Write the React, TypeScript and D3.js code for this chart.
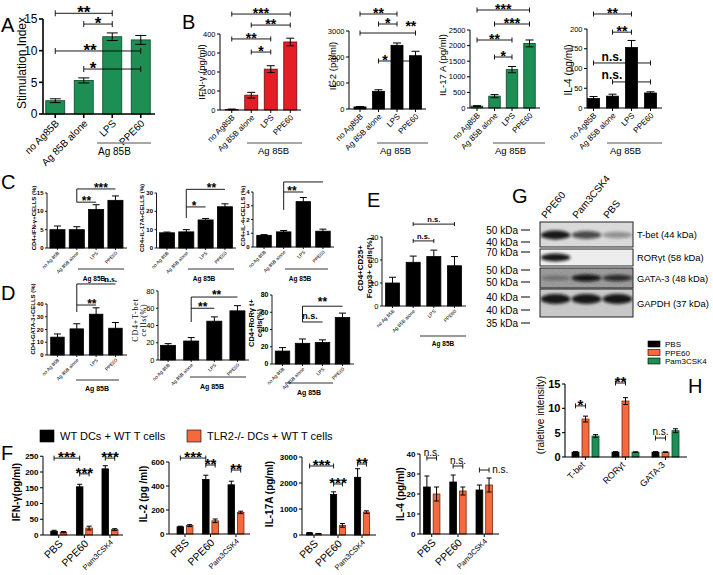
import React from 'react';
import * as d3 from 'd3';

// ---------------- DATA ----------------
const agCats = ['no Ag85B', 'Ag 85B alone', 'LPS', 'PPE60'];
const agCatsSmall = ['no Ag 85B', 'Ag 85B alone', 'LPS', 'PPE60'];

const aVals = [2.1, 5.3, 12.2, 11.7];
const aErrs = [0.3, 0.4, 0.6, 0.7];
const aTicks = [0, 5, 10, 15];

const ifnVals = [3, 78, 215, 358];
const ifnErrs = [2, 15, 18, 20];
const ifnTicks = [0, 100, 200, 300, 400];

const il2Vals = [80, 680, 2450, 2050];
const il2Errs = [15, 60, 90, 170];
const il2Ticks = [0, 1000, 2000, 3000];

const il17Vals = [60, 380, 1230, 2070];
const il17Errs = [15, 50, 100, 110];
const il17Ticks = [0, 500, 1000, 1500, 2000, 2500];

const il4Vals = [24, 30, 153, 38];
const il4Errs = [5, 5, 18, 3];
const il4Ticks = [0, 50, 100, 150, 200];

const cIfnVals = [5, 5, 10.5, 13];
const cIfnErrs = [1, 0.8, 1.3, 1.2];
const cIfnTicks = [0, 5, 10, 15];

const cIl17Vals = [8.3, 8.8, 15.3, 22.5];
const cIl17Errs = [0.4, 1.2, 0.8, 1.6];
const cIl17Ticks = [0, 10, 20, 30];

const cIl4Vals = [0.85, 1.1, 3.3, 1.15];
const cIl4Errs = [0.05, 0.1, 0.3, 0.15];
const cIl4Ticks = [0, 1, 2, 3, 4];

const dGataVals = [14, 20.5, 32, 21];
const dGataErrs = [2.5, 4, 5, 4.5];
const dGataTicks = [0, 10, 20, 30, 40];

const dTbetVals = [17, 22, 45, 57];
const dTbetErrs = [2, 4, 5, 6];
const dTbetTicks = [0, 20, 40, 60, 80];

const dRorVals = [15, 24, 25, 54];
const dRorErrs = [4, 5, 3, 5];
const dRorTicks = [0, 20, 40, 60, 80];

const eVals = [10, 19, 21.5, 17.5];
const eErrs = [2.5, 2.7, 2.8, 4];
const eTicks = [0, 10, 20, 30];

const fCats = ['PBS', 'PPE60', 'Pam3CSK4'];
const fSeries = ['WT DCs + WT T cells', 'TLR2-/- DCs + WT T cells'];
const fIfnWT = [12, 153, 210];
const fIfnWTErr = [3, 8, 10];
const fIfnKO = [9, 22, 17];
const fIfnKOErr = [2, 6, 3];
const fIfnTicks = [0, 50, 100, 150, 200, 250];

const fIl2WT = [60, 455, 410];
const fIl2WTErr = [5, 35, 30];
const fIl2KO = [70, 110, 180];
const fIl2KOErr = [8, 15, 10];
const fIl2Ticks = [0, 200, 400, 600];

const fIl17WT = [80, 1560, 2220];
const fIl17WTErr = [10, 100, 330];
const fIl17KO = [50, 370, 880];
const fIl17KOErr = [10, 70, 50];
const fIl17Ticks = [0, 1000, 2000, 3000];

const fIl4WT = [23.5, 26, 22];
const fIl4WTErr = [5.5, 3.5, 2.5];
const fIl4KO = [20, 21.5, 24.5];
const fIl4KOErr = [3.5, 2, 3.5];
const fIl4Ticks = [0, 10, 20, 30, 40];

const hCats = ['T-bet', 'RORγt', 'GATA-3'];
const hSeries = ['PBS', 'PPE60', 'Pam3CSK4'];
const hPBS = [1, 1, 1];
const hPBSErr = [0.1, 0.1, 0.1];
const hPPE = [7.8, 11.5, 1];
const hPPEErr = [0.6, 0.7, 0.05];
const hPam = [4.3, 1, 5.4];
const hPamErr = [0.3, 0.05, 0.4];
const hTicks = [0, 5, 10, 15];

const blotLanes = ['PPE60', 'Pam3CSK4', 'PBS'];
const blotRows = ['T-bet (44 kDa)', 'RORγt (58 kDa)', 'GATA-3 (48 kDa)', 'GAPDH (37 kDa)'];
const blotIntensity = [
  [0.95, 0.7, 0.35],
  [0.95, 0, 0],
  [0.3, 0.95, 0.8],
  [0.95, 0.95, 0.95],
];
const blotMarkers = ['50 kDa', '40 kDa', '70 kDa', '50 kDa', '50 kDa', '40 kDa', '40 kDa', '35 kDa'];

// ---------------- STYLE ----------------
const FONT = 'Liberation Sans, Arial, Helvetica, sans-serif';
const SERIF = 'Liberation Serif, Times New Roman, serif';
const GREEN = '#1d8f55';
const RED = '#e41e26';
const ORANGE = '#f26a3d';

type Br = { a: number; b: number; v: number; t: string; lp?: number; gap?: number; caps?: boolean; serif?: boolean };
type VL = { at: number; v1: number; v2: number };
type Spec = {
  vals: number[]; errs: number[]; labels: string[];
  color: string; stroke: string;
  ax: number; right: number; band: [number, number]; pad: number;
  y0: number; yTop: number; yMax: number; ticks: number[];
  tickFs: number; tickBold?: boolean; tickLen: number; lw: number;
  ylab: string[]; ylabX: number; ylabY: number; ylabFs: number; ylabBold?: boolean; ylabFamily?: string; ylabLH?: number; ylabLS?: number;
  xFs: number; xBold?: boolean;
  grp?: { x1: number; x2: number; y: number; tx: number; ty: number; fs: number; color: string; bold?: boolean; lw: number; anchor?: string };
  br: Br[]; vl?: VL[]; starFs: number; nsFs: number; capW: number; capH: number;
};

function isStars(t: string) {
  return /^\*+$/.test(t);
}

function YLabel({ lines, x, y, fs, bold, family, lh, ls }: any) {
  return (
    <text
      transform={`translate(${x + fs * 0.35},${y}) rotate(-90)`}
      textAnchor="middle"
      fontSize={fs}
      fontWeight={bold ? 'bold' : 'normal'}
      fontFamily={family || FONT}
      letterSpacing={ls || 0}
    >
      {lines.map((l: string, i: number) => (
        <tspan key={i} x={0} dy={i === 0 ? 0 : (lh || fs * 1.1)}>{l}</tspan>
      ))}
    </text>
  );
}

function BarPanel({ s }: { s: Spec }) {
  const n = s.vals.length;
  const y = d3.scaleLinear().domain([0, s.yMax]).range([s.y0, s.yTop]);
  const x = d3.scaleBand<number>().domain(d3.range(n)).range(s.band).paddingInner(s.pad).paddingOuter(s.pad / 2);
  const bw = x.bandwidth();
  const step = x.step();
  const cx = (i: number) => s.band[0] + step * (i + 0.5);
  return (
    <g fontFamily={FONT}>
      {s.vals.map((v, i) => (
        <rect key={'b' + i} x={x(i)} y={y(v)} width={bw} height={s.y0 - y(v)} fill={s.color} stroke={s.stroke} strokeWidth={0.8} />
      ))}
      {s.vals.map((v, i) => {
        const e = s.errs[i];
        const c = cx(i);
        return (
          <g key={'e' + i} stroke="#000" strokeWidth={1}>
            <line x1={c} x2={c} y1={y(Math.max(0, v - e))} y2={y(v + e)} />
            <line x1={c - s.capW / 2} x2={c + s.capW / 2} y1={y(v + e)} y2={y(v + e)} />
            <line x1={c - s.capW / 2} x2={c + s.capW / 2} y1={y(Math.max(0, v - e))} y2={y(Math.max(0, v - e))} />
          </g>
        );
      })}
      <line x1={s.ax} x2={s.ax} y1={s.y0} y2={y(s.yMax)} stroke="#000" strokeWidth={s.lw} />
      <line x1={s.ax} x2={s.right} y1={s.y0} y2={s.y0} stroke="#000" strokeWidth={s.lw} />
      {s.ticks.map((t) => (
        <g key={'t' + t}>
          <line x1={s.ax - s.tickLen} x2={s.ax} y1={y(t)} y2={y(t)} stroke="#000" strokeWidth={s.lw} />
          <text x={s.ax - s.tickLen - 1.5} y={y(t)} dy="0.35em" textAnchor="end" fontSize={s.tickFs} fontWeight={s.tickBold ? 'bold' : 'normal'}>
            {t}
          </text>
        </g>
      ))}
      {s.labels.map((l, i) => (
        <g key={'x' + i}>
          <line x1={cx(i)} x2={cx(i)} y1={s.y0} y2={s.y0 + s.tickLen} stroke="#000" strokeWidth={s.lw} />
          <text
            transform={`translate(${cx(i) + s.xFs * 0.45},${s.y0 + s.xFs * 0.5 + s.tickLen + 1}) rotate(-45)`}
            textAnchor="end"
            fontSize={s.xFs}
            fontWeight={s.xBold ? 'bold' : 'normal'}
          >
            {l}
          </text>
        </g>
      ))}
      <YLabel lines={s.ylab} x={s.ylabX} y={s.ylabY} fs={s.ylabFs} bold={s.ylabBold} family={s.ylabFamily} lh={s.ylabLH} ls={s.ylabLS} />
      {s.grp && (
        <g>
          <line x1={s.grp.x1} x2={s.grp.x2} y1={s.grp.y} y2={s.grp.y} stroke={s.grp.color} strokeWidth={s.grp.lw} />
          <text x={s.grp.tx} y={s.grp.ty} fontSize={s.grp.fs} fontWeight={s.grp.bold ? 'bold' : 'normal'} textAnchor={s.grp.anchor || 'start'}>
            Ag 85B
          </text>
        </g>
      )}
      {(s.vl || []).map((v, i) => (
        <line key={'vl' + i} x1={cx(v.at)} x2={cx(v.at)} y1={y(v.v1)} y2={y(v.v2)} stroke="#000" strokeWidth={0.9} />
      ))}
      {s.br.map((b, i) => {
        const yy = y(b.v);
        const x1 = cx(b.a);
        const x2 = cx(b.b);
        const lx = b.lp !== undefined ? cx(b.lp) : (x1 + x2) / 2;
        const st = isStars(b.t);
        const fs = st ? s.starFs : s.nsFs;
        const gap = b.gap ?? 2;
        const ty = st ? yy - gap + 0.42 * fs : yy - gap;
        return (
          <g key={'br' + i}>
            <line x1={x1} x2={x2} y1={yy} y2={yy} stroke="#000" strokeWidth={0.9} />
            {b.caps !== false && (
              <g stroke="#000" strokeWidth={0.9}>
                <line x1={x1} x2={x1} y1={yy - s.capH / 2} y2={yy + s.capH / 2} />
                <line x1={x2} x2={x2} y1={yy - s.capH / 2} y2={yy + s.capH / 2} />
              </g>
            )}
            {b.t && (
              <text x={lx} y={ty} textAnchor="middle" fontSize={fs} fontWeight="bold" fontFamily={b.serif ? SERIF : FONT}>
                {b.t}
              </text>
            )}
          </g>
        );
      })}
    </g>
  );
}

type GBr = { a: [number, number]; b: [number, number]; v: number; t: string; ldx?: number; gap?: number; anchor?: string };
type GSpec = {
  groups: string[]; series: number[][]; errs: number[][]; colors: string[]; strokes: string[];
  ax: number; right: number; band: [number, number]; gpad: number; spad: number;
  y0: number; yTop: number; yMax: number; ticks: number[]; tickFs: number; tickBold?: boolean; tickLen: number; lw: number;
  ylab: string[]; ylabX: number; ylabY: number; ylabFs: number; ylabBold?: boolean;
  xFs: number[]; xBold?: boolean; xdx?: number;
  br: GBr[]; starFs: number; nsFs: number; capW: number; capH: number;
};

function GroupPanel({ s }: { s: GSpec }) {
  const ng = s.groups.length;
  const ns = s.series.length;
  const y = d3.scaleLinear().domain([0, s.yMax]).range([s.y0, s.yTop]);
  const xg = d3.scaleBand<number>().domain(d3.range(ng)).range(s.band).paddingInner(s.gpad).paddingOuter(s.gpad / 2);
  const xs = d3.scaleBand<number>().domain(d3.range(ns)).range([0, xg.bandwidth()]).paddingInner(s.spad);
  const bw = xs.bandwidth();
  const bx = (g: number, k: number) => (xg(g) as number) + (xs(k) as number);
  const bc = (g: number, k: number) => bx(g, k) + bw / 2;
  const gc = (g: number) => (xg(g) as number) + xg.bandwidth() / 2;
  return (
    <g fontFamily={FONT}>
      {s.series.map((ser, k) =>
        ser.map((v, g) => (
          <rect key={`b${k}-${g}`} x={bx(g, k)} y={y(v)} width={bw} height={s.y0 - y(v)} fill={s.colors[k]} stroke={s.strokes[k]} strokeWidth={0.8} />
        ))
      )}
      {s.series.map((ser, k) =>
        ser.map((v, g) => {
          const e = s.errs[k][g];
          const c = bc(g, k);
          return (
            <g key={`e${k}-${g}`} stroke="#000" strokeWidth={1}>
              <line x1={c} x2={c} y1={y(Math.max(0, v - e))} y2={y(v + e)} />
              <line x1={c - s.capW / 2} x2={c + s.capW / 2} y1={y(v + e)} y2={y(v + e)} />
              <line x1={c - s.capW / 2} x2={c + s.capW / 2} y1={y(Math.max(0, v - e))} y2={y(Math.max(0, v - e))} />
            </g>
          );
        })
      )}
      <line x1={s.ax} x2={s.ax} y1={s.y0} y2={y(s.yMax)} stroke="#000" strokeWidth={s.lw} />
      <line x1={s.ax} x2={s.right} y1={s.y0} y2={s.y0} stroke="#000" strokeWidth={s.lw} />
      {s.ticks.map((t) => (
        <g key={'t' + t}>
          <line x1={s.ax - s.tickLen} x2={s.ax} y1={y(t)} y2={y(t)} stroke="#000" strokeWidth={s.lw} />
          <text x={s.ax - s.tickLen - 1.5} y={y(t)} dy="0.35em" textAnchor="end" fontSize={s.tickFs} fontWeight={s.tickBold ? 'bold' : 'normal'}>
            {t}
          </text>
        </g>
      ))}
      {s.groups.map((l, i) => (
        <g key={'x' + i}>
          <line x1={gc(i)} x2={gc(i)} y1={s.y0} y2={s.y0 + s.tickLen} stroke="#000" strokeWidth={s.lw} />
          <text
            transform={`translate(${gc(i) + s.xFs[i] * 0.45 + (s.xdx || 0)},${s.y0 + s.xFs[i] * 0.5 + s.tickLen + 1}) rotate(-45)`}
            textAnchor="end"
            fontSize={s.xFs[i]}
            fontWeight={s.xBold ? 'bold' : 'normal'}
          >
            {l}
          </text>
        </g>
      ))}
      <YLabel lines={s.ylab} x={s.ylabX} y={s.ylabY} fs={s.ylabFs} bold={s.ylabBold} />
      {s.br.map((b, i) => {
        const yy = y(b.v);
        const x1 = bc(b.a[0], b.a[1]);
        const x2 = bc(b.b[0], b.b[1]);
        const st = isStars(b.t);
        const fs = st ? s.starFs : s.nsFs;
        const gap = b.gap ?? 2;
        const ty = st ? yy - gap + 0.42 * fs : yy - gap;
        return (
          <g key={'br' + i}>
            <line x1={x1} x2={x2} y1={yy} y2={yy} stroke="#000" strokeWidth={0.9} />
            <line x1={x1} x2={x1} y1={yy - s.capH / 2} y2={yy + s.capH / 2} stroke="#000" strokeWidth={0.9} />
            <line x1={x2} x2={x2} y1={yy - s.capH / 2} y2={yy + s.capH / 2} stroke="#000" strokeWidth={0.9} />
            <text x={(x1 + x2) / 2 + (b.ldx || 0)} y={ty} textAnchor={b.anchor || 'middle'} fontSize={fs} fontWeight={st ? 'bold' : 'normal'}>
              {b.t}
            </text>
          </g>
        );
      })}
    </g>
  );
}

// ---------------- PANEL SPECS ----------------
const specA: Spec = {
  vals: aVals, errs: aErrs, labels: agCats, color: GREEN, stroke: '#0c4627',
  ax: 43, right: 155, band: [41, 155], pad: 0.333,
  y0: 114, yTop: 19, yMax: 15, ticks: aTicks, tickFs: 12, tickLen: 4, lw: 1.6,
  ylab: ['Stimulation Index'], ylabX: 22, ylabY: 63, ylabFs: 12,
  xFs: 10,
  grp: { x1: 97, x2: 151, y: 143, tx: 98, ty: 155, fs: 10, color: '#8a8a8a', lw: 1.5 },
  br: [
    { a: 0, b: 2, v: 15.9, t: '**' },
    { a: 1, b: 2, v: 14.2, t: '*' },
    { a: 0, b: 3, v: 9.95, t: '**', lp: 1.22 },
    { a: 1, b: 3, v: 7.1, t: '*', lp: 1.33 },
  ],
  starFs: 17, nsFs: 12, capW: 11, capH: 6,
};

const bBase = {
  labels: agCats, tickFs: 7.5, tickLen: 3, lw: 1, xFs: 8, starFs: 14, nsFs: 12, capW: 8, capH: 5, ylabFs: 9.5,
};

const specB1: Spec = {
  ...bBase, vals: ifnVals, errs: ifnErrs, color: RED, stroke: '#6d0a0d',
  ax: 220, right: 301, band: [222, 300], pad: 0.333,
  y0: 110, yTop: 34, yMax: 400, ticks: ifnTicks,
  ylab: ['IFN-γ (pg/ml)'], ylabX: 201.5, ylabY: 72,
  grp: { x1: 247, x2: 302, y: 143, tx: 258, ty: 154, fs: 9.5, color: '#8a8a8a', lw: 1.3 },
  br: [
    { a: 0, b: 3, v: 505, t: '***' },
    { a: 1, b: 3, v: 447, t: '**' },
    { a: 0, b: 2, v: 374, t: '**' },
    { a: 1, b: 2, v: 305, t: '*' },
  ],
};

const specB2: Spec = {
  ...bBase, vals: il2Vals, errs: il2Errs, color: '#000', stroke: '#000',
  ax: 349, right: 426, band: [350.75, 424.75], pad: 0.35,
  y0: 109, yTop: 31, yMax: 3000, ticks: il2Ticks,
  ylab: ['IL-2 (pg/ml)'], ylabX: 333, ylabY: 66,
  grp: { x1: 377, x2: 428, y: 143, tx: 380, ty: 154, fs: 9.5, color: '#8a8a8a', lw: 1.3 },
  br: [
    { a: 0, b: 2, v: 3654, t: '**' },
    { a: 1, b: 2, v: 3269, t: '*' },
    { a: 0, b: 3, v: 2923, t: '**', lp: 2.75, gap: 8 },
    { a: 1, b: 3, v: 1846, t: '*', lp: 1.35 },
  ],
};

const specB3: Spec = {
  ...bBase, vals: il17Vals, errs: il17Errs, color: GREEN, stroke: '#0c4627',
  ax: 470, right: 540, band: [468.25, 538.25], pad: 0.343,
  y0: 108, yTop: 30, yMax: 2500, ticks: il17Ticks,
  ylab: ['IL-17 A (pg/ml)'], ylabX: 443, ylabY: 65,
  grp: { x1: 493, x2: 545, y: 143, tx: 495, ty: 154, fs: 9.5, color: '#8a8a8a', lw: 1.3 },
  br: [
    { a: 0, b: 3, v: 3141, t: '***' },
    { a: 1, b: 3, v: 2692, t: '***' },
    { a: 0, b: 2, v: 2179, t: '**' },
    { a: 1, b: 2, v: 1634, t: '*' },
  ],
};

const specB4: Spec = {
  ...bBase, vals: il4Vals, errs: il4Errs, color: '#000', stroke: '#000',
  ax: 587, right: 662, band: [584, 660], pad: 0.368,
  y0: 108, yTop: 29, yMax: 200, ticks: il4Ticks, ylabFs: 10,
  ylab: ['IL-4 (pg/ml)'], ylabX: 568, ylabY: 70,
  grp: { x1: 607, x2: 662, y: 143, tx: 610, ty: 154, fs: 9.5, color: '#8a8a8a', lw: 1.3 },
  br: [
    { a: 0, b: 2, v: 238, t: '**' },
    { a: 1, b: 2, v: 192, t: '**' },
    { a: 0, b: 3, v: 114, t: 'n.s.', lp: 0.97 },
    { a: 1, b: 3, v: 66, t: 'n.s.', lp: 0.97, gap: 3 },
  ],
};

const cBase = {
  labels: agCatsSmall, color: '#000', stroke: '#000', tickFs: 6, tickBold: true, tickLen: 2, lw: 0.9,
  xFs: 4.8, starFs: 12, nsFs: 8, capW: 7, capH: 4, ylabFs: 6, ylabBold: true,
};

const specC1: Spec = {
  ...cBase, vals: cIfnVals, errs: cIfnErrs,
  ax: 47, right: 127, band: [47.8, 125.1], pad: 0.22,
  y0: 248, yTop: 193, yMax: 15, ticks: cIfnTicks,
  ylab: ['CD4+IFN-γ+CELLS (%)'], ylabX: 34, ylabY: 218,
  grp: { x1: 78, x2: 124, y: 269, tx: 94, ty: 281, fs: 6.5, bold: true, color: '#000', lw: 0.8, anchor: 'middle' },
  vl: [{ at: 1, v1: 16.1, v2: 12.5 }],
  br: [
    { a: 1, b: 3, v: 16.1, t: '***', lp: 2.25, caps: false },
    { a: 1, b: 2, v: 12.5, t: '**', lp: 1.5, caps: false },
  ],
};

const specC2: Spec = {
  ...cBase, vals: cIl17Vals, errs: cIl17Errs,
  ax: 156.5, right: 236, band: [157.3, 234.6], pad: 0.22,
  y0: 248, yTop: 193, yMax: 30, ticks: cIl17Ticks,
  ylab: ['CD4+IL-17A+CELLS (%)'], ylabX: 142, ylabY: 218,
  grp: { x1: 188, x2: 234, y: 269, tx: 204, ty: 281, fs: 6.5, bold: true, color: '#000', lw: 0.8, anchor: 'middle' },
  vl: [{ at: 1, v1: 32, v2: 16.4 }],
  br: [
    { a: 1, b: 3, v: 32, t: '**', lp: 2.3, caps: false },
    { a: 1, b: 2, v: 22.4, t: '*', lp: 1.4, caps: false },
  ],
};

const specC3: Spec = {
  ...cBase, vals: cIl4Vals, errs: cIl4Errs,
  ax: 253, right: 334, band: [254.2, 332.8], pad: 0.26,
  y0: 247, yTop: 192, yMax: 4, ticks: cIl4Ticks,
  ylab: ['CD4+IL-4+CELLS (%)'], ylabX: 243, ylabY: 216,
  grp: { x1: 285, x2: 328, y: 269, tx: 300, ty: 281, fs: 6.5, bold: true, color: '#000', lw: 0.8, anchor: 'middle' },
  vl: [{ at: 1, v1: 4.73, v2: 2.7 }],
  br: [
    { a: 1, b: 3, v: 4.73, t: '', caps: false },
    { a: 1, b: 2, v: 4.0, t: '**', lp: 1.42, caps: false },
  ],
};

const specD1: Spec = {
  ...cBase, vals: dGataVals, errs: dGataErrs,
  ax: 47, right: 127, band: [47.8, 125.1], pad: 0.3,
  y0: 355, yTop: 304, yMax: 40, ticks: dGataTicks,
  ylab: ['CD4+GATA-3+CELLS (%)'], ylabX: 33, ylabY: 319,
  grp: { x1: 76, x2: 119, y: 380, tx: 97, ty: 391, fs: 7, bold: true, color: '#000', lw: 0.8, anchor: 'middle' },
  vl: [{ at: 1, v1: 55.7, v2: 33.7 }],
  br: [
    { a: 1, b: 3, v: 55.7, t: 'n.s.', lp: 2.75, caps: false, serif: true },
    { a: 1, b: 2, v: 39.2, t: '**', lp: 1.78, caps: false },
  ],
  nsFs: 9,
};

const specD2: Spec = {
  ...cBase, vals: dTbetVals, errs: dTbetErrs,
  ax: 158, right: 249, band: [156.5, 249], pad: 0.35, tickFs: 7.5, tickBold: false,
  y0: 360, yTop: 291, yMax: 80, ticks: dTbetTicks,
  ylab: ['CD4+T-bet', 'cells(%)'], ylabX: 135, ylabY: 320, ylabFs: 8, ylabBold: false, ylabFamily: SERIF, ylabLH: 8, ylabLS: 0.8,
  grp: { x1: 190, x2: 246, y: 377, tx: 212, ty: 389, fs: 7, bold: true, color: '#000', lw: 0.8, anchor: 'middle' },
  vl: [{ at: 1, v1: 73, v2: 44 }],
  br: [
    { a: 1, b: 3, v: 73, t: '**', lp: 2.1, caps: false, gap: 3 },
    { a: 1, b: 2, v: 60, t: '**', lp: 1.5, caps: false },
  ],
};

const specD3: Spec = {
  ...cBase, vals: dRorVals, errs: dRorErrs,
  ax: 272, right: 354, band: [272.5, 352.5], pad: 0.275, tickFs: 7,
  y0: 364, yTop: 295, yMax: 80, ticks: dRorTicks,
  ylab: ['CD4+RoRγ t+', 'cells(%)'], ylabX: 251, ylabY: 323, ylabFs: 7.5, ylabBold: true, ylabLH: 8,
  grp: { x1: 285, x2: 333, y: 383, tx: 309, ty: 395, fs: 7, bold: true, color: '#000', lw: 0.8, anchor: 'middle' },
  vl: [{ at: 1, v1: 67, v2: 48.7 }],
  br: [
    { a: 1, b: 3, v: 67, t: '**', lp: 2.0, caps: false, gap: 5 },
    { a: 1, b: 2, v: 48.7, t: 'n.s.', lp: 1.375, caps: false, gap: 3 },
  ],
  nsFs: 9,
};

const specE: Spec = {
  ...cBase, vals: eVals, errs: eErrs,
  ax: 382, right: 466, band: [382.2, 464.8], pad: 0.32, tickFs: 7.5, tickBold: false,
  y0: 306, yTop: 237, yMax: 30, ticks: eTicks, xFs: 5,
  ylab: ['CD4+CD25+', 'Foxp3+ cells(%)'], ylabX: 360, ylabY: 268, ylabFs: 8, ylabBold: true, ylabLH: 9,
  grp: { x1: 420, x2: 466, y: 336, tx: 443, ty: 346, fs: 6.5, bold: true, color: '#000', lw: 0.8, anchor: 'middle' },
  br: [
    { a: 1, b: 3, v: 35.6, t: 'n.s.' },
    { a: 1, b: 2, v: 28.3, t: 'n.s.' },
  ],
  nsFs: 7.5, capH: 4,
};

const fBase = {
  groups: fCats, colors: ['#000', ORANGE], strokes: ['#000', '#7a2a10'], gpad: 0.375, spad: 0.3,
  tickFs: 8, tickBold: true, tickLen: 3, lw: 1, ylabFs: 10, ylabBold: true, xFs: [10.5, 10.5, 7.5],
  starFs: 15, nsFs: 10, capW: 5, capH: 5,
};

const specF1: GSpec = {
  ...fBase, series: [fIfnWT, fIfnKO], errs: [fIfnWTErr, fIfnKOErr],
  ax: 43, right: 123, band: [45.95, 122.8], y0: 535, yTop: 456.25, yMax: 250, ticks: fIfnTicks,
  ylab: ['IFN-γ(pg/ml)'], ylabX: 16, ylabY: 492,
  br: [
    { a: [0, 0], b: [1, 0], v: 244, t: '***' },
    { a: [1, 0], b: [1, 1], v: 194, t: '***' },
    { a: [2, 0], b: [2, 1], v: 244, t: '***' },
  ],
};

const specF2: GSpec = {
  ...fBase, series: [fIl2WT, fIl2KO], errs: [fIl2WTErr, fIl2KOErr],
  ax: 169, right: 250, band: [172.25, 248.75], y0: 534, yTop: 462, yMax: 600, ticks: fIl2Ticks,
  ylab: ['IL-2 (pg /ml)'], ylabX: 143, ylabY: 494,
  br: [
    { a: [0, 0], b: [1, 0], v: 633, t: '***' },
    { a: [1, 0], b: [1, 1], v: 575, t: '**' },
    { a: [2, 0], b: [2, 1], v: 533, t: '**' },
  ],
};

const specF3: GSpec = {
  ...fBase, series: [fIl17WT, fIl17KO], errs: [fIl17WTErr, fIl17KOErr],
  ax: 302, right: 376, band: [302, 374], y0: 535, yTop: 457, yMax: 3000, ticks: fIl17Ticks,
  ylab: ['IL-17A (pg/ml)'], ylabX: 269, ylabY: 494,
  br: [
    { a: [0, 0], b: [1, 0], v: 2654, t: '***' },
    { a: [1, 0], b: [1, 1], v: 1962, t: '***' },
    { a: [2, 0], b: [2, 1], v: 2730, t: '**' },
  ],
};

const specF4: GSpec = {
  ...fBase, series: [fIl4WT, fIl4KO], errs: [fIl4WTErr, fIl4KOErr],
  ax: 420, right: 499, band: [418.6, 497.35], y0: 534, yTop: 454, yMax: 40, ticks: fIl4Ticks,
  ylab: ['IL-4 (pg/ml)'], ylabX: 400, ylabY: 494,
  br: [
    { a: [0, 0], b: [0, 1], v: 38, t: 'n.s.' },
    { a: [1, 0], b: [1, 1], v: 34, t: 'n.s.' },
    { a: [2, 0], b: [2, 1], v: 32, t: 'n.s.', ldx: 8, anchor: 'start', gap: -3 },
  ],
};

const specH: GSpec = {
  groups: hCats, series: [hPBS, hPPE, hPam], errs: [hPBSErr, hPPEErr, hPamErr],
  colors: ['#000', ORANGE, GREEN], strokes: ['#000', '#7a2a10', '#0c4627'], gpad: 0.325, spad: 0.3,
  ax: 565, right: 687, band: [565.5, 685.5], y0: 457, yTop: 384, yMax: 15, ticks: hTicks,
  tickFs: 11, tickBold: true, tickLen: 3, lw: 1.1,
  ylab: ['(raletive intensity)'], ylabX: 540, ylabY: 415, ylabFs: 10,
  xFs: [9, 9, 9], xdx: -4,
  br: [
    { a: [0, 0], b: [0, 1], v: 10.5, t: '*' },
    { a: [1, 0], b: [1, 1], v: 15.2, t: '**' },
    { a: [2, 0], b: [2, 1], v: 3.9, t: 'n.s.', gap: 3 },
  ],
  starFs: 15, nsFs: 10, capW: 5, capH: 5,
};

// ---------------- BLOT ----------------
function Blot() {
  const left = 540;
  const right = 633;
  const rowY = [222, 249, 268, 289];
  const rowH = [25, 17, 20, 28];
  const rowBg = ['#d9d9d9', '#ededed', '#8c8c8c', '#c8c8c8'];
  const bandRy = [4.5, 4, 3.5, 5];
  const bandDy = [0.5, 0, 0, -4];
  const lane = d3.scaleBand<number>().domain(d3.range(blotLanes.length)).range([left, right]);
  const markerY = [230, 242, 252, 270, 282, 297, 310, 323];
  return (
    <g fontFamily={FONT}>
      <defs>
        <filter id="blur" x="-30%" y="-80%" width="160%" height="260%">
          <feGaussianBlur stdDeviation="1.4" />
        </filter>
        <filter id="noise" x="0" y="0" width="100%" height="100%">
          <feTurbulence type="fractalNoise" baseFrequency="0.9" numOctaves="2" seed="3" result="n" />
          <feColorMatrix type="matrix" values="0 0 0 0 0.45  0 0 0 0 0.45  0 0 0 0 0.45  0 0 0 0.7 0" />
          <feComposite in2="SourceGraphic" operator="in" />
        </filter>
        {rowY.map((ry, r) => (
          <clipPath id={'clip' + r} key={r}>
            <rect x={left} y={ry} width={right - left} height={rowH[r]} />
          </clipPath>
        ))}
      </defs>
      {blotLanes.map((l, i) => (
        <text
          key={l}
          transform={`translate(${(lane(i) as number) + 6},${219}) rotate(-50)`}
          fontSize={10}
        >
          {l}
        </text>
      ))}
      {rowY.map((ry, r) => (
        <g key={'row' + r}>
          <rect x={left} y={ry} width={right - left} height={rowH[r]} fill={rowBg[r]} />
          {r === 2 && <rect x={left} y={ry} width={right - left} height={rowH[r]} fill="#fff" filter="url(#noise)" />}
          <g clipPath={`url(#clip${r})`}>
            {blotLanes.map((_, i) => {
              const it = blotIntensity[r][i];
              if (it <= 0) return null;
              const c = (lane(i) as number) + lane.bandwidth() / 2;
              return (
                <ellipse
                  key={i}
                  cx={c}
                  cy={ry + rowH[r] / 2 + bandDy[r]}
                  rx={lane.bandwidth() * 0.48}
                  ry={bandRy[r] * (0.6 + 0.4 * it)}
                  fill="#0a0a0a"
                  opacity={it}
                  filter="url(#blur)"
                />
              );
            })}
          </g>
          <rect x={left} y={ry} width={right - left} height={rowH[r]} fill="none" stroke="#222" strokeWidth={1} />
          <text x={right + 4} y={ry + rowH[r] / 2 + 3.5} fontSize={9.4}>
            {blotRows[r]}
          </text>
        </g>
      ))}
      {blotMarkers.map((m, i) => (
        <g key={'m' + i}>
          <text x={518} y={markerY[i] + 3.5} textAnchor="end" fontSize={10}>
            {m}
          </text>
          <line x1={521} x2={530} y1={markerY[i]} y2={markerY[i]} stroke="#000" strokeWidth={1} />
        </g>
      ))}
    </g>
  );
}

function HLegend() {
  const colors = ['#000', ORANGE, GREEN];
  return (
    <g fontFamily={FONT}>
      {hSeries.map((s, i) => (
        <g key={s}>
          <rect x={648} y={341 + i * 8.5} width={12} height={6} fill={colors[i]} stroke="#000" strokeWidth={0.6} />
          <text x={665} y={347 + i * 8.5} fontSize={8}>
            {s}
          </text>
        </g>
      ))}
    </g>
  );
}

function FLegend() {
  const colors = ['#000', ORANGE];
  const xs = [40, 187];
  return (
    <g fontFamily={FONT}>
      {fSeries.map((s, i) => (
        <g key={s}>
          <rect x={xs[i]} y={430} width={14} height={12} fill={colors[i]} stroke="#000" strokeWidth={0.6} />
          <text x={xs[i] + 20} y={440} fontSize={11}>
            {s}
          </text>
        </g>
      ))}
    </g>
  );
}

export default function App() {
  const letters: [string, number, number][] = [
    ['A', 1, 32],
    ['B', 182, 29],
    ['C', 1, 189],
    ['D', 1, 300],
    ['E', 367, 207],
    ['G', 512, 203],
    ['H', 688, 393],
    ['F', 1, 460],
  ];
  return (
    <svg
      width={713}
      height={575}
      viewBox="0 0 713 575"
      style={{ position: 'absolute', left: 0, top: 0, background: '#fff' }}
      fontFamily={FONT}
    >
      <rect width={713} height={575} fill="#fff" />
      {letters.map(([t, x, y]) => (
        <text key={t} x={x} y={y} fontSize={20} fontFamily={FONT}>
          {t}
        </text>
      ))}
      <BarPanel s={specA} />
      <BarPanel s={specB1} />
      <BarPanel s={specB2} />
      <BarPanel s={specB3} />
      <BarPanel s={specB4} />
      <BarPanel s={specC1} />
      <BarPanel s={specC2} />
      <BarPanel s={specC3} />
      <BarPanel s={specD1} />
      <BarPanel s={specD2} />
      <BarPanel s={specD3} />
      <BarPanel s={specE} />
      <Blot />
      <GroupPanel s={specH} />
      <HLegend />
      <FLegend />
      <GroupPanel s={specF1} />
      <GroupPanel s={specF2} />
      <GroupPanel s={specF3} />
      <GroupPanel s={specF4} />
    </svg>
  );
}
